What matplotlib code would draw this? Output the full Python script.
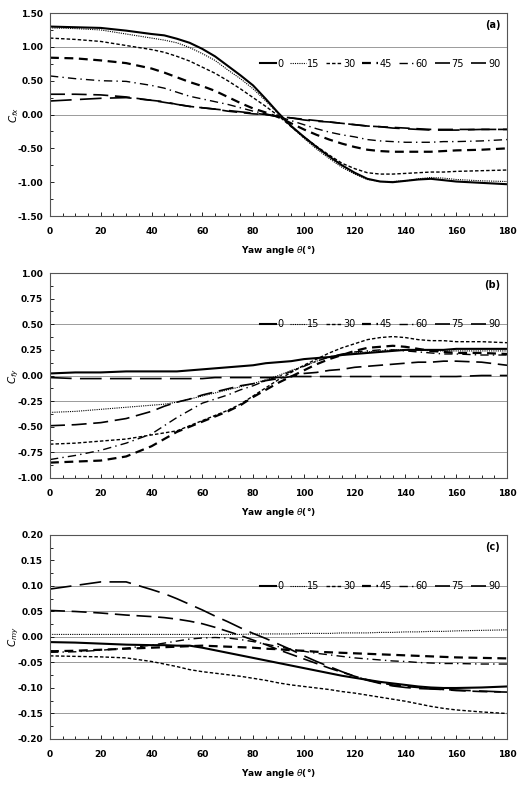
import matplotlib
matplotlib.use('Agg')
import matplotlib.pyplot as plt
from matplotlib.ticker import MultipleLocator

# yaw angle sample points (deg)
yaw = [0, 10, 20, 30, 40, 45, 50, 55, 60, 65, 70, 75, 80, 85, 90, 95, 100, 105,
       110, 115, 120, 125, 130, 135, 140, 145, 150, 155, 160, 170, 180]

labels = ['0', '15', '30', '45', '60', '75', '90']

# (a) Cfx
cfx_0 = [1.30, 1.29, 1.28, 1.24, 1.19, 1.17, 1.12, 1.06, 0.97, 0.86, 0.72, 0.58, 0.43, 0.23, 0.02, -0.17, -0.33, -0.48,
         -0.62, -0.75, -0.86, -0.95, -0.99, -1.00, -0.98, -0.96, -0.95, -0.97, -0.99, -1.01, -1.03]
cfx_15 = [1.28, 1.27, 1.25, 1.19, 1.13, 1.10, 1.06, 0.99, 0.90, 0.80, 0.66, 0.53, 0.38, 0.20, 0.01, -0.18, -0.35, -0.51,
          -0.65, -0.78, -0.88, -0.96, -0.99, -0.99, -0.98, -0.95, -0.93, -0.94, -0.96, -0.98, -0.99]
cfx_30 = [1.13, 1.11, 1.08, 1.02, 0.96, 0.92, 0.86, 0.79, 0.70, 0.61, 0.50, 0.38, 0.25, 0.12, -0.02, -0.18, -0.33, -0.47,
          -0.60, -0.72, -0.80, -0.86, -0.88, -0.88, -0.87, -0.86, -0.85, -0.85, -0.84, -0.83, -0.82]
cfx_45 = [0.84, 0.83, 0.80, 0.76, 0.68, 0.62, 0.55, 0.48, 0.42, 0.35, 0.26, 0.17, 0.09, 0.03, -0.04, -0.13, -0.22, -0.30,
          -0.37, -0.43, -0.48, -0.52, -0.54, -0.55, -0.55, -0.55, -0.55, -0.54, -0.53, -0.52, -0.50]
cfx_60 = [0.57, 0.53, 0.50, 0.49, 0.43, 0.39, 0.33, 0.27, 0.23, 0.19, 0.15, 0.10, 0.05, 0.01, -0.03, -0.09, -0.15, -0.21,
          -0.26, -0.30, -0.33, -0.37, -0.39, -0.40, -0.41, -0.41, -0.41, -0.40, -0.40, -0.39, -0.37]
cfx_75 = [0.30, 0.30, 0.29, 0.26, 0.21, 0.18, 0.15, 0.12, 0.10, 0.08, 0.05, 0.03, 0.01, 0.00, -0.03, -0.05, -0.07, -0.09,
          -0.11, -0.13, -0.15, -0.17, -0.18, -0.19, -0.20, -0.21, -0.22, -0.22, -0.22, -0.22, -0.22]
cfx_90 = [0.20, 0.22, 0.24, 0.25, 0.21, 0.19, 0.15, 0.12, 0.10, 0.08, 0.06, 0.04, 0.02, 0.00, -0.03, -0.05, -0.08, -0.10,
          -0.11, -0.13, -0.15, -0.17, -0.18, -0.20, -0.21, -0.22, -0.23, -0.23, -0.23, -0.22, -0.22]

# (b) Cfy
cfy_0 = [0.02, 0.03, 0.03, 0.04, 0.04, 0.04, 0.04, 0.05, 0.06, 0.07, 0.08, 0.09, 0.10, 0.12, 0.13, 0.14, 0.16, 0.17,
         0.18, 0.20, 0.21, 0.22, 0.23, 0.24, 0.25, 0.25, 0.25, 0.25, 0.26, 0.26, 0.26]
cfy_15 = [-0.36, -0.35, -0.33, -0.31, -0.29, -0.28, -0.26, -0.23, -0.20, -0.17, -0.14, -0.11, -0.08, -0.04, 0.00, 0.05, 0.09, 0.14,
          0.18, 0.20, 0.22, 0.23, 0.24, 0.25, 0.25, 0.25, 0.24, 0.24, 0.24, 0.24, 0.24]
cfy_30 = [-0.67, -0.66, -0.64, -0.62, -0.58, -0.56, -0.54, -0.49, -0.44, -0.39, -0.34, -0.28, -0.20, -0.12, -0.04, 0.03, 0.10, 0.16,
          0.22, 0.27, 0.31, 0.35, 0.37, 0.38, 0.37, 0.35, 0.34, 0.34, 0.33, 0.33, 0.32]
cfy_45 = [-0.85, -0.84, -0.83, -0.79, -0.69, -0.62, -0.55, -0.50, -0.45, -0.40, -0.35, -0.29, -0.21, -0.14, -0.07, -0.01, 0.05, 0.11,
          0.16, 0.20, 0.24, 0.27, 0.28, 0.29, 0.28, 0.26, 0.24, 0.23, 0.22, 0.22, 0.21]
cfy_60 = [-0.82, -0.78, -0.73, -0.66, -0.57, -0.49, -0.41, -0.34, -0.27, -0.23, -0.19, -0.14, -0.10, -0.05, -0.01, 0.04, 0.09, 0.14,
          0.18, 0.21, 0.23, 0.24, 0.25, 0.25, 0.24, 0.23, 0.22, 0.21, 0.21, 0.20, 0.20]
cfy_75 = [-0.49, -0.48, -0.46, -0.42, -0.35, -0.30, -0.26, -0.23, -0.19, -0.16, -0.13, -0.10, -0.08, -0.05, -0.03, -0.01, 0.02, 0.03,
          0.05, 0.06, 0.08, 0.09, 0.10, 0.11, 0.12, 0.13, 0.13, 0.14, 0.14, 0.13, 0.10]
cfy_90 = [-0.02, -0.03, -0.03, -0.03, -0.03, -0.03, -0.03, -0.03, -0.03, -0.02, -0.02, -0.02, -0.02, -0.02, -0.02, -0.01, -0.01, -0.01,
          -0.01, -0.01, -0.01, -0.01, -0.01, -0.01, -0.01, -0.01, -0.01, -0.01, -0.01, 0.00, 0.00]

# (c) Cmy
cmy_0 = [-0.010, -0.011, -0.013, -0.015, -0.016, -0.016, -0.017, -0.017, -0.021, -0.026, -0.031, -0.036, -0.041, -0.046, -0.051, -0.056, -0.061, -0.066,
         -0.071, -0.076, -0.080, -0.084, -0.088, -0.091, -0.094, -0.097, -0.099, -0.100, -0.100, -0.099, -0.097]
cmy_15 = [0.005, 0.005, 0.005, 0.005, 0.005, 0.005, 0.005, 0.005, 0.005, 0.005, 0.005, 0.005, 0.006, 0.006, 0.006, 0.006, 0.007, 0.007,
          0.007, 0.008, 0.008, 0.008, 0.009, 0.009, 0.010, 0.010, 0.011, 0.011, 0.012, 0.013, 0.014]
cmy_30 = [-0.037, -0.038, -0.039, -0.041, -0.048, -0.053, -0.058, -0.064, -0.068, -0.071, -0.074, -0.077, -0.081, -0.085, -0.090, -0.094, -0.097, -0.100,
          -0.103, -0.107, -0.110, -0.114, -0.118, -0.122, -0.126, -0.131, -0.136, -0.140, -0.143, -0.147, -0.150]
cmy_45 = [-0.028, -0.027, -0.025, -0.023, -0.021, -0.020, -0.019, -0.018, -0.017, -0.018, -0.019, -0.020, -0.021, -0.023, -0.024, -0.026, -0.027, -0.029,
          -0.030, -0.031, -0.032, -0.033, -0.034, -0.035, -0.036, -0.037, -0.038, -0.039, -0.040, -0.041, -0.042]
cmy_60 = [-0.030, -0.029, -0.026, -0.022, -0.016, -0.012, -0.008, -0.004, -0.002, -0.001, -0.002, -0.005, -0.009, -0.014, -0.019, -0.024, -0.028, -0.032,
          -0.035, -0.038, -0.041, -0.043, -0.045, -0.047, -0.048, -0.050, -0.051, -0.052, -0.052, -0.053, -0.053]
cmy_75 = [0.052, 0.050, 0.047, 0.043, 0.040, 0.038, 0.035, 0.031, 0.026, 0.019, 0.011, 0.003, -0.006, -0.015, -0.025, -0.034, -0.043, -0.052,
          -0.061, -0.069, -0.077, -0.084, -0.090, -0.094, -0.097, -0.099, -0.101, -0.103, -0.105, -0.107, -0.108]
cmy_90 = [0.094, 0.101, 0.108, 0.108, 0.093, 0.085, 0.075, 0.064, 0.053, 0.041, 0.030, 0.018, 0.007, -0.003, -0.014, -0.025, -0.037, -0.048,
          -0.058, -0.068, -0.077, -0.085, -0.091, -0.096, -0.099, -0.101, -0.102, -0.103, -0.104, -0.106, -0.108]

styles = [
    dict(linestyle='-', linewidth=1.5),
    dict(linestyle=(0, (1, 1)), linewidth=0.8),
    dict(linestyle=(0, (2.5, 1.5)), linewidth=1.0),
    dict(linestyle=(0, (4, 2.5)), linewidth=1.6),
    dict(linestyle=(0, (6, 3, 1, 3)), linewidth=1.0),
    dict(linestyle=(0, (9, 4)), linewidth=1.2),
    dict(linestyle=(0, (13, 5)), linewidth=1.2),
]

panels = [
    ([cfx_0, cfx_15, cfx_30, cfx_45, cfx_60, cfx_75, cfx_90], r'$C_{fx}$', (-1.5, 1.5), 0.5, '(a)',
     [1.0, 0.0]),
    ([cfy_0, cfy_15, cfy_30, cfy_45, cfy_60, cfy_75, cfy_90], r'$C_{fy}$', (-1.0, 1.0), 0.25, '(b)',
     [0.5, 0.0, -0.25, -0.75]),
    ([cmy_0, cmy_15, cmy_30, cmy_45, cmy_60, cmy_75, cmy_90], r'$C_{my}$', (-0.2, 0.2), 0.05, '(c)',
     [0.10, 0.05, 0.0, -0.05, -0.15]),
]

fig = plt.figure(figsize=(5.19, 7.85), dpi=100)
boxes = [(0.0963, 0.7248, 0.8806, 0.2586),
         (0.0963, 0.3911, 0.8806, 0.2611),
         (0.0963, 0.0586, 0.8806, 0.2599)]

for box, (series, ylab, ylim, step, tag, grid) in zip(boxes, panels):
    ax = fig.add_axes(box)
    for g in grid:
        ax.axhline(g, color='#9a9a9a', linewidth=0.7, zorder=0)
    for vals, lab, st in zip(series, labels, styles):
        ax.plot(yaw, vals, color='black', label=lab, **st)
    ax.set_xlim(0, 180)
    ax.set_ylim(*ylim)
    ax.xaxis.set_major_locator(MultipleLocator(20))
    ax.xaxis.set_minor_locator(MultipleLocator(5))
    ax.yaxis.set_major_locator(MultipleLocator(step))
    ax.yaxis.set_minor_locator(MultipleLocator(step / 2))
    ax.yaxis.set_major_formatter(plt.FormatStrFormatter('%.2f'))
    ax.tick_params(which='both', direction='in', labelsize=6.5, width=0.6)
    ax.tick_params(which='major', length=3)
    ax.tick_params(which='minor', length=2)
    ax.tick_params(axis='x', pad=8)
    ax.tick_params(axis='y', pad=5)
    for lbl in ax.get_xticklabels() + ax.get_yticklabels():
        lbl.set_fontweight('bold')
    for sp in ax.spines.values():
        sp.set_color('#555555')
        sp.set_linewidth(0.8)
    ax.set_xlabel(r'Yaw angle $\theta$(°)', fontsize=6.5, fontweight='bold', labelpad=6)
    ax.set_ylabel(ylab, fontsize=7.5)
    ax.yaxis.set_label_coords(-0.064, 0.5)
    ax.text(0.985, 0.94, tag, transform=ax.transAxes, ha='right', va='center',
            fontsize=7, fontweight='bold')
    ax.legend(loc='center right', bbox_to_anchor=(1.0, 0.75), ncol=7, frameon=False,
              fontsize=7, handlelength=1.6, handletextpad=0.15, columnspacing=0.7,
              borderaxespad=0.3)

fig.savefig('out.png', dpi=100)
